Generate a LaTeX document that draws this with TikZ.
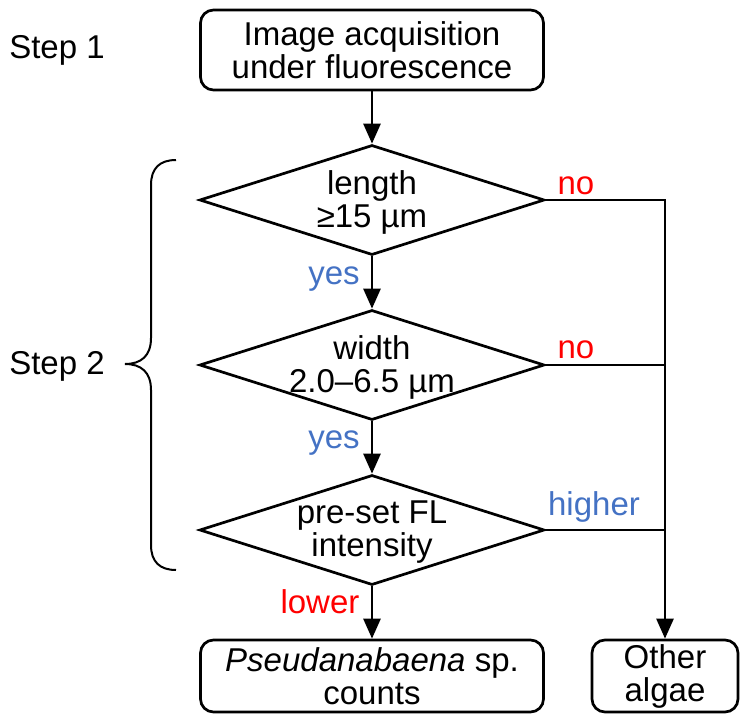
\documentclass[tikz,border=0pt]{standalone}
\usepackage{fontspec}
\setmainfont{Liberation Sans}
\usetikzlibrary{shapes.geometric,arrows.meta}
\definecolor{noRed}{HTML}{FF0000}
\definecolor{yesBlue}{HTML}{4472C4}
\begin{document}
\begin{tikzpicture}[x=1pt,y=-1pt,
  every node/.style={font=\fontsize{33}{33}\selectfont, align=center},
  box/.style={draw, line width=2.7pt, rounded corners=13pt, inner sep=0pt},
  dec/.style={draw, line width=2.7pt, shape=diamond, shape aspect=3.14, minimum width=345pt, minimum height=110pt, inner sep=0pt},
  conn/.style={line width=2.7pt},
  arr/.style={line width=2.7pt, -{Triangle[width=17pt,length=20pt]}},
  redlbl/.style={text=noRed},
  bluelbl/.style={text=yesBlue}
]
\useasboundingbox (0,0) rectangle (740,718);
\node[box, minimum width=343pt, minimum height=80pt] (acq) at (372,50) {Image acquisition\\under fluorescence};
\node[dec] (d1) at (372,200) {};
\node[dec] (d2) at (372,365) {};
\node[dec] (d3) at (372,530) {};
\node (d1t) at (372,202) {length\\≥15 µm};
\node (d2t) at (372,367) {width\\2.0–6.5 µm};
\node (d3t) at (372,532) {pre-set FL\\intensity};
\node[box, minimum width=343pt, minimum height=72pt] (pc) at (372,676) {\textit{Pseudanabaena} sp.\\counts};
\node[box, minimum width=146pt, minimum height=72pt] (oa) at (665,676) {Other\\algae};

\node (s1) at (57,50) {Step 1};
\node (s2) at (57,366) {Step 2};

\draw[arr] (acq) -- (d1);
\draw[arr] (d1) -- (d2);
\draw[arr] (d2) -- (d3);
\draw[arr] (d3) -- (pc);
\draw[arr] (d1.east) -| (oa.north);
\draw[conn] (d2.east) -- (d2.east -| oa.north);
\draw[conn] (d3.east) -- (d3.east -| oa.north);

\node[redlbl] (n1) at (576,186) {no};
\node[redlbl] (n2) at (576,350) {no};
\node[bluelbl] (h) at (594,507) {higher};
\node[bluelbl] (y1) at (334,279) {yes};
\node[bluelbl] (y2) at (334,443) {yes};
\node[redlbl] (lw) at (320,602) {lower};

\draw[line width=2pt] (176,160) .. controls (160,160) and (151,168) .. (151,185) -- (151,338)
  .. controls (151,356) and (141,364) .. (125,364)
  .. controls (141,364) and (151,372) .. (151,390) -- (151,545)
  .. controls (151,562) and (160,570) .. (176,570);
\end{tikzpicture}
\end{document}
